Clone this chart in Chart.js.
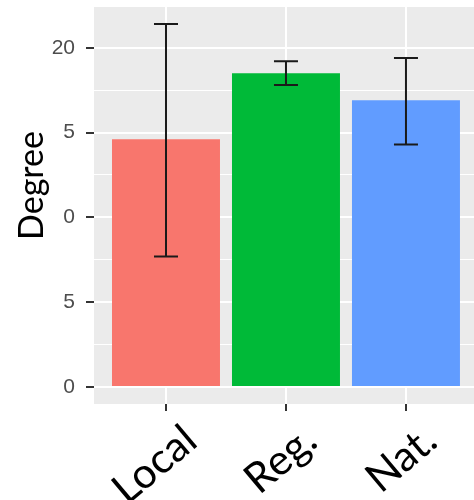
<!DOCTYPE html>
<html>
<head>
<meta charset="utf-8">
<script src="https://cdn.jsdelivr.net/npm/chart.js@4"></script>
<style>
html,body{margin:0;padding:0;background:#fff;}
#wrap{width:474px;height:500px;position:relative;}
</style>
</head>
<body>
<div id="wrap"><canvas id="c" width="474" height="500"></canvas></div>
<script>
const categories = ['Local', 'Reg.', 'Nat.'];
const means = [14.6, 18.5, 16.9];
const errLow = [7.7, 17.8, 14.3];
const errHigh = [21.4, 19.2, 19.4];
const barColors = ['#F8766D', '#00BA38', '#619CFF'];
const yTickValues = [0, 5, 10, 15, 20];
const yTickLabels = ['0', '5', '0', '5', '20'];
const yMinorValues = [2.5, 7.5, 12.5, 17.5];
const yTitle = 'Degree';

const panelBg = {
  id: 'panelBg',
  beforeDraw(chart) {
    const {ctx, chartArea: a} = chart;
    ctx.save();
    ctx.fillStyle = '#EBEBEB';
    ctx.fillRect(a.left, a.top, a.right - a.left, a.bottom - a.top);
    ctx.restore();
  }
};

const errorBars = {
  id: 'errorBars',
  afterDatasetsDraw(chart) {
    const {ctx, scales: {x, y}} = chart;
    ctx.save();
    ctx.strokeStyle = '#1a1a1a';
    ctx.lineWidth = 2;
    categories.forEach((c, i) => {
      const px = x.getPixelForValue(i);
      const lo = y.getPixelForValue(errLow[i]);
      const hi = y.getPixelForValue(errHigh[i]);
      ctx.beginPath();
      ctx.moveTo(px, lo); ctx.lineTo(px, hi);
      ctx.moveTo(px - 12, lo); ctx.lineTo(px + 12, lo);
      ctx.moveTo(px - 12, hi); ctx.lineTo(px + 12, hi);
      ctx.stroke();
    });
    ctx.restore();
  }
};

const yTitlePlugin = {
  id: 'yTitlePlugin',
  afterDraw(chart) {
    const {ctx, chartArea: a} = chart;
    ctx.save();
    ctx.translate(a.left - 62, (a.top + a.bottom) / 2 - 20);
    ctx.rotate(-Math.PI / 2);
    ctx.fillStyle = '#000000';
    ctx.font = '34px Lato';
    ctx.textAlign = 'center';
    ctx.textBaseline = 'middle';
    ctx.fillText(yTitle, 0, 0);
    ctx.restore();
  }
};

new Chart(document.getElementById('c'), {
  type: 'bar',
  data: {
    datasets: [{
      data: categories.map((c, i) => ({x: i, y: means[i]})),
      backgroundColor: barColors,
      borderWidth: 0,
      barPercentage: 0.9,
      categoryPercentage: 1.0
    }]
  },
  plugins: [panelBg, errorBars, yTitlePlugin],
  options: {
    responsive: false,
    animation: false,
    devicePixelRatio: 1,
    layout: {padding: {top: 7, right: 0, left: 0, bottom: 0}},
    plugins: {legend: {display: false}, tooltip: {enabled: false}},
    scales: {
      x: {
        type: 'linear',
        offset: false,
        min: -0.6,
        max: 2.567,
        afterBuildTicks(axis) { axis.ticks = categories.map((c, i) => ({value: i})); },
        afterFit(scale) { scale.height = 96; scale.paddingLeft = 0; scale.paddingRight = 0; },
        grid: {offset: false, color: '#FFFFFF', lineWidth: 2, tickColor: '#333333', tickLength: 7, drawOnChartArea: true},
        border: {display: false},
        ticks: {
          autoSkip: false,
          minRotation: 40,
          maxRotation: 40,
          padding: 4,
          labelOffset: 25,
          color: '#000000',
          font: {family: 'Lato', size: 42},
          callback: (v) => categories[v]
        }
      },
      y: {
        min: -1,
        max: 22.4,
        afterBuildTicks(axis) {
          axis.ticks = yTickValues.concat(yMinorValues).sort((a, b) => a - b).map(v => ({value: v}));
        },
        afterFit(scale) { scale.width = 94; scale.paddingTop = 0; scale.paddingBottom = 0; },
        grid: {
          color: '#FFFFFF',
          lineWidth: (ctx) => (ctx.tick && yTickValues.includes(ctx.tick.value)) ? 2 : 1,
          tickColor: (ctx) => (ctx.tick && yTickValues.includes(ctx.tick.value)) ? '#333333' : 'rgba(0,0,0,0)',
          tickLength: 8
        },
        border: {display: false},
        ticks: {
          padding: 11,
          color: '#4D4D4D',
          font: {family: 'Arial, Liberation Sans', size: 21},
          callback: (v) => {
            const k = yTickValues.indexOf(v);
            return k >= 0 ? yTickLabels[k] : '';
          }
        }
      }
    }
  }
});
</script>
</body>
</html>
